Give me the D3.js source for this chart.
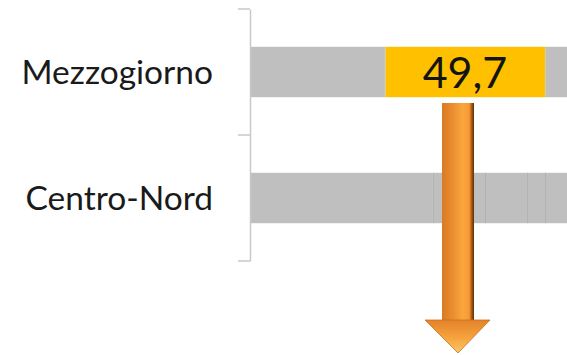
<!DOCTYPE html>
<html>
<head>
<meta charset="utf-8">
<script src="https://cdn.jsdelivr.net/npm/d3@7"></script>
<style>
  body { margin: 0; background: #fff; }
  svg { display: block; }
  .cat text { font-family: Lato, "Open Sans", sans-serif; font-size: 33.5px; fill: #1a1a1a; }
  .value { font-family: Lato, "Open Sans", sans-serif; font-size: 43px; fill: #141414; }
</style>
</head>
<body>
<svg width="567" height="355"></svg>
<script>
var categories = ["Mezzogiorno", "Centro-Nord"];

// stacked segment values per category (percent)
var mezzogiorno = [41.9, 49.7, 8.4],
    centroNord  = [56.8, 16.2, 13.0, 5.6, 8.4];

var highlight = { category: "Mezzogiorno", segment: 1, label: "49,7" };
var arrowAt = 64.6;

var svg = d3.select("svg"),
    width = 567, height = 355;

svg.append("rect").attr("width", width).attr("height", height).attr("fill", "#fff");

var x = d3.scaleLinear().domain([0, 100]).range([250, 572]);
var y = d3.scaleBand()
    .domain(categories)
    .range([9, 261])
    .paddingInner(0.6)
    .paddingOuter(0.3);

function stack(vals) {
  var acc = 0;
  return vals.map(function(v, i) {
    var s = { x0: acc, x1: acc + v, i: i };
    acc += v;
    return s;
  });
}

var rows = [
  { cat: "Mezzogiorno", segs: stack(mezzogiorno) },
  { cat: "Centro-Nord", segs: stack(centroNord) }
];

var row = svg.selectAll(".row")
    .data(rows)
  .enter().append("g")
    .attr("class", "row")
    .attr("transform", function(d) { return "translate(0," + y(d.cat) + ")"; });

row.selectAll("rect")
    .data(function(d) { return d.segs.map(function(s) { s.cat = d.cat; return s; }); })
  .enter().append("rect")
    .attr("x", function(d) { return x(d.x0); })
    .attr("width", function(d) { return x(d.x1) - x(d.x0); })
    .attr("height", y.bandwidth())
    .attr("fill", function(d) {
      return (d.cat == highlight.category && d.i == highlight.segment) ? "#FFC000" : "#BFBFBF";
    });

// faint segment dividers
row.selectAll(".div")
    .data(function(d) { return d.segs.slice(1).map(function(s) { return { x: s.x0, cat: d.cat }; }); })
  .enter().append("line")
    .attr("class", "div")
    .attr("x1", function(d) { return x(d.x) + 0.5; })
    .attr("x2", function(d) { return x(d.x) + 0.5; })
    .attr("y1", 0)
    .attr("y2", y.bandwidth())
    .attr("stroke", function(d) { return d.cat == highlight.category ? "#D9D0A0" : "#B2B2B2"; })
    .attr("stroke-width", 1);

// value label on highlighted segment
var hs = rows[0].segs[highlight.segment];
svg.append("text")
    .attr("class", "value")
    .attr("x", x((hs.x0 + hs.x1) / 2))
    .attr("y", y(highlight.category) + y.bandwidth() / 2 + 16)
    .attr("text-anchor", "middle")
    .text(highlight.label);

// category axis
var axis = svg.append("g")
    .attr("class", "cat")
    .attr("transform", "translate(250,0)")
    .call(d3.axisLeft(y).tickSize(0).tickPadding(37));
axis.select(".domain").attr("stroke", "#C8C8C8").attr("stroke-width", 1.5);
axis.selectAll("text").attr("dy", "0.35em");

var bounds = [y.range()[0]].concat(categories.map(function(c) {
  return y(c) + y.bandwidth() + y.step() * y.paddingInner() / 2;
}));
bounds[bounds.length - 1] = y.range()[1];
svg.selectAll(".btick")
    .data(bounds)
  .enter().append("line")
    .attr("x1", 238).attr("x2", 250)
    .attr("y1", function(d) { return d; })
    .attr("y2", function(d) { return d; })
    .attr("stroke", "#C8C8C8")
    .attr("stroke-width", 1.5);

// big orange arrow
var defs = svg.append("defs");
var g1 = defs.append("linearGradient").attr("id", "shaft").attr("x1", 0).attr("x2", 1).attr("y1", 0).attr("y2", 0);
[[0, "#D87A24"], [0.3, "#E98B2E"], [0.65, "#FBA63F"], [0.85, "#F59A35"], [0.93, "#A8560F"], [1, "#5A2E08"]]
  .forEach(function(s) { g1.append("stop").attr("offset", s[0]).attr("stop-color", s[1]); });
var g2 = defs.append("linearGradient").attr("id", "head").attr("x1", 0).attr("x2", 0).attr("y1", 0).attr("y2", 1);
[[0, "#E3822A"], [0.55, "#F7A43E"], [1, "#FCC768"]]
  .forEach(function(s) { g2.append("stop").attr("offset", s[0]).attr("stop-color", s[1]); });

var arrowX = x(arrowAt), arrowTop = 103, arrowNeck = 320, arrowTip = 353;
svg.append("rect")
    .attr("x", arrowX - 16).attr("y", arrowTop)
    .attr("width", 32).attr("height", arrowNeck - arrowTop + 1)
    .attr("fill", "url(#shaft)");
svg.append("path")
    .attr("d", "M" + (arrowX - 33) + "," + arrowNeck + "L" + (arrowX + 32) + "," + arrowNeck + "L" + arrowX + "," + arrowTip + "Z")
    .attr("fill", "url(#head)")
    .attr("stroke", "#C9701F")
    .attr("stroke-width", 0.8);
</script>
</body>
</html>
